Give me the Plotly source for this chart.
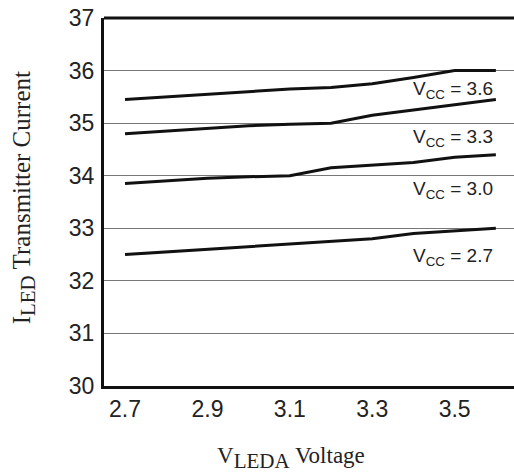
import plotly.graph_objects as go

x_vals = [2.7, 2.8, 2.9, 3.0, 3.1, 3.2, 3.3, 3.4, 3.5, 3.6]
vcc_36 = [35.45, 35.5, 35.55, 35.6, 35.65, 35.68, 35.75, 35.87, 36.0, 36.0]
vcc_33 = [34.8, 34.85, 34.9, 34.95, 34.98, 35.0, 35.15, 35.25, 35.35, 35.45]
vcc_30 = [33.85, 33.9, 33.95, 33.98, 34.0, 34.15, 34.2, 34.25, 34.35, 34.4]
vcc_27 = [32.5, 32.55, 32.6, 32.65, 32.7, 32.75, 32.8, 32.9, 32.95, 33.0]
series_names = ["3.6", "3.3", "3.0", "2.7"]
label_y = [35.63, 34.72, 33.73, 32.46]
label_x = 3.496
x_ticks = [2.7, 2.9, 3.1, 3.3, 3.5]
y_ticks = [30, 31, 32, 33, 34, 35, 36, 37]

fig = go.Figure()
for ys in [vcc_36, vcc_33, vcc_30, vcc_27]:
    fig.add_trace(go.Scatter(x=x_vals, y=ys, mode="lines",
                             line=dict(color="#111111", width=3), showlegend=False))

for name, ly in zip(series_names, label_y):
    fig.add_annotation(x=label_x, y=ly, xref="x", yref="y",
                       xanchor="center", yanchor="middle",
                       text="V<sub>CC</sub> = " + name, showarrow=False,
                       font=dict(family="Liberation Sans, Arial", size=19, color="#222"))

serif = "Liberation Serif, Times New Roman"
# plot area: x 104..514, y 18..386 (height 368, width 410)
fig.add_annotation(xref="paper", yref="paper", x=-0.195, y=0.51,
                   xanchor="center", yanchor="middle",
                   text='I<sub><span style="font-size:21px">LED</span></sub> Transmitter Current',
                   textangle=-90, showarrow=False,
                   font=dict(family=serif, size=25, color="#222"))
fig.add_annotation(xref="paper", yref="paper", x=0.456, y=-0.196,
                   xanchor="center", yanchor="middle",
                   text='V<sub><span style="font-size:21px">LEDA</span></sub> Voltage',
                   showarrow=False,
                   font=dict(family=serif, size=23, color="#222"))

fig.add_shape(type="line", xref="paper", yref="paper", x0=0, x1=1, y0=1, y1=1,
              line=dict(color="#111", width=3))

fig.update_xaxes(range=[2.649, 3.644], tickvals=x_ticks, ticktext=[f"{v:.1f}" for v in x_ticks],
                 showgrid=False, zeroline=False, showline=True, linecolor="#111", linewidth=3,
                 ticks="", ticklabelstandoff=0,
                 tickfont=dict(family="Liberation Sans, Arial", size=23, color="#222"))
fig.update_yaxes(range=[30, 37], tickvals=y_ticks, showgrid=True, gridcolor="#777", gridwidth=1,
                 zeroline=False, showline=True, linecolor="#111", linewidth=3, ticks="",
                 ticklabelstandoff=2,
                 tickfont=dict(family="Liberation Sans, Arial", size=23, color="#222"))

fig.update_layout(width=514, height=473, margin=dict(l=104, r=0, t=18, b=87),
                  plot_bgcolor="white", paper_bgcolor="white")
fig.write_html("out.html", config={"displayModeBar": False},
               post_script="document.body.style.margin='0';document.body.style.padding='0';")
